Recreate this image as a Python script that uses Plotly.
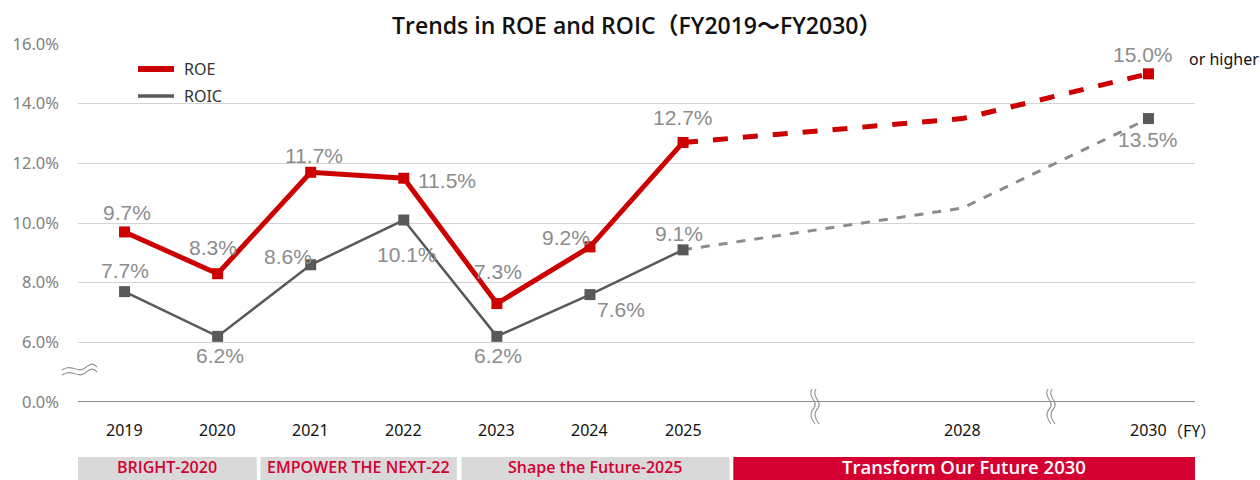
import plotly.graph_objects as go

years_actual = [2019, 2020, 2021, 2022, 2023, 2024, 2025]
roe_actual = [9.7, 8.3, 11.7, 11.5, 7.3, 9.2, 12.7]
roic_actual = [7.7, 6.2, 8.6, 10.1, 6.2, 7.6, 9.1]
years_plan = [2025, 2028, 2030]
roe_plan = [12.7, 13.5, 15.0]
roic_plan = [9.1, 10.5, 13.5]
tick_years = [2019, 2020, 2021, 2022, 2023, 2024, 2025, 2028, 2030]
y_tickvals = [4, 6, 8, 10, 12, 14, 16]
y_ticktext = ["0.0%", "6.0%", "8.0%", "10.0%", "12.0%", "14.0%", "16.0%"]
periods = ["BRIGHT-2020", "EMPOWER THE NEXT-22", "Shape the Future-2025", "Transform Our Future 2030"]
period_spans = [(2018.5, 2020.42), (2020.46, 2022.57), (2022.62, 2025.5), (2025.54, 2030.5)]

RED = "#cc0000"
DGRAY = "#595959"
LGRAY = "#8c8c8c"
LABEL = "#8c8c8c"
LBLFONT = "Liberation Sans, Arial"
TXTFONT = "Noto Sans, Noto Sans CJK JP"
HEADFONT = "Open Sans, Noto Sans CJK JP"

W, H = 1260, 480
L, R, T, B = 78, 65, 44, 78
PW, PH = W - L - R, H - T - B


def px(xp):
    return (xp - L) / PW


def py(yp):
    return (H - B - yp) / PH


fig = go.Figure()
fig.add_trace(go.Scatter(x=years_plan, y=roic_plan, mode="lines",
                         line=dict(color=LGRAY, width=3, dash="dash"), showlegend=False))
fig.add_trace(go.Scatter(x=years_plan, y=roe_plan, mode="lines",
                         line=dict(color=RED, width=5, dash="dash"), showlegend=False))
fig.add_trace(go.Scatter(x=years_actual, y=roe_actual, mode="lines", name="ROE",
                         line=dict(color=RED, width=5), showlegend=False))
fig.add_trace(go.Scatter(x=years_actual, y=roic_actual, mode="lines", name="ROIC",
                         line=dict(color=DGRAY, width=2.5), showlegend=False))
fig.add_trace(go.Scatter(x=years_actual + [years_plan[-1]], y=roic_actual + [roic_plan[-1]],
                         mode="markers", marker=dict(symbol="square", size=11, color=DGRAY),
                         showlegend=False))
fig.add_trace(go.Scatter(x=years_actual + [years_plan[-1]], y=roe_actual + [roe_plan[-1]],
                         mode="markers", marker=dict(symbol="square", size=11, color=RED),
                         showlegend=False))

roe_shift = [(2, -19), (-5, -26), (3, -17), (43, 2), (1, -32), (-24, -9), (0, -25)]
roic_shift = [(0, -21), (2, 19), (-23, -8), (3, 34), (1, 19), (31, 15), (-4, -16)]
ann = []
lblfont = dict(size=21, color=LABEL, family=LBLFONT)
for xv, yv, (dx, dy) in zip(years_actual, roe_actual, roe_shift):
    ann.append(dict(x=xv, y=yv, text=f"{yv:.1f}%", xshift=dx, yshift=-dy, showarrow=False, font=lblfont))
for xv, yv, (dx, dy) in zip(years_actual, roic_actual, roic_shift):
    ann.append(dict(x=xv, y=yv, text=f"{yv:.1f}%", xshift=dx, yshift=-dy, showarrow=False, font=lblfont))
ann.append(dict(x=years_plan[-1], y=roe_plan[-1], text=f"{roe_plan[-1]:.1f}%", xshift=-5, yshift=19,
                showarrow=False, font=lblfont))
ann.append(dict(x=years_plan[-1], y=roic_plan[-1], text=f"{roic_plan[-1]:.1f}%", xshift=0, yshift=-21,
                showarrow=False, font=lblfont))
ann.append(dict(x=years_plan[-1], y=roe_plan[-1], text="or higher", xshift=39, yshift=15,
                xanchor="left", showarrow=False, font=dict(size=16, color="#111", family=TXTFONT)))

shapes = []
legend_items = [("ROE", RED, 6, 69), ("ROIC", DGRAY, 3.5, 96)]
for name, col, wd, yp in legend_items:
    shapes.append(dict(type="line", xref="paper", yref="paper", x0=px(138), x1=px(174),
                       y0=py(yp), y1=py(yp), line=dict(color=col, width=wd)))
    ann.append(dict(x=px(182), y=py(yp), xref="paper", yref="paper", text=name, xanchor="left",
                    yanchor="middle", showarrow=False, font=dict(size=16, color="#333", family=TXTFONT)))

for yr in tick_years:
    ann.append(dict(x=yr, y=py(430), yref="paper", text=str(yr), showarrow=False,
                    font=dict(size=16, color="#111", family=TXTFONT), yanchor="middle"))
ann.append(dict(x=tick_years[-1], y=py(430), yref="paper", text="（FY）", xshift=17, xanchor="left",
                showarrow=False, font=dict(size=16, color="#111", family="Noto Sans CJK JP"),
                yanchor="middle"))

ann.append(dict(x=0.5, y=py(25), xref="paper", yref="paper", showarrow=False, yanchor="middle",
                text="Trends in ROE and ROIC（FY2019～FY2030）",
                font=dict(size=23, color="#111", family=HEADFONT, weight=600)))

for i, ((x0, x1), name) in enumerate(zip(period_spans, periods)):
    last = i == len(periods) - 1
    shapes.append(dict(type="rect", xref="x", yref="paper", x0=x0, x1=x1, y0=py(457), y1=py(482),
                       fillcolor="#d50032" if last else "#d9d9d9", line=dict(width=0), layer="below"))
    ann.append(dict(x=(x0 + x1) / 2, y=py(467 if not last else 466), yref="paper", text=name,
                    showarrow=False, yanchor="middle",
                    font=dict(size=18.5 if last else 16, color="white" if last else "#d50032",
                              family=HEADFONT, weight=600)))

shapes.append(dict(type="line", xref="paper", yref="y", x0=0, x1=1, y0=4, y1=4,
                   line=dict(color="#666666", width=1.5)))

for off in (0, 5):
    x0, x1 = 62, 97
    yc = 368 + off
    path = (f"M {px(x0)},{py(yc + 2)} C {px(x0 + 9)},{py(yc - 5)} {px(x0 + 16)},{py(yc + 6)} "
            f"{px(x0 + 23)},{py(yc)} S {px(x0 + 32)},{py(yc - 4)} {px(x1)},{py(yc - 1)}")
    shapes.append(dict(type="path", xref="paper", yref="paper", path=path,
                       line=dict(color="#9a9a9a", width=1.2)))

for xb in (814, 1050):
    for off in (0, 4):
        xc = xb + off
        path = (f"M {px(xc - 2)},{py(389)} C {px(xc - 7)},{py(397)} {px(xc + 5)},{py(402)} "
                f"{px(xc)},{py(408)} S {px(xc - 3)},{py(418)} {px(xc + 1)},{py(424)}")
        shapes.append(dict(type="path", xref="paper", yref="paper", path=path,
                           line=dict(color="#9a9a9a", width=1.2)))

fig.update_layout(
    width=W, height=H,
    margin=dict(l=L, r=R, t=T, b=B),
    plot_bgcolor="white", paper_bgcolor="white",
    annotations=ann, shapes=shapes,
    xaxis=dict(range=[2018.5, 2030.5], showgrid=False, zeroline=False, showline=False,
               showticklabels=False, fixedrange=True),
    yaxis=dict(range=[4, 16], tickvals=y_tickvals, ticktext=y_ticktext, showgrid=True,
               gridcolor="#d4d4d4", gridwidth=1, zeroline=False, showline=False, ticks="",
               ticklabelstandoff=18,
               tickfont=dict(size=16.5, color="#7f7f7f", family="Noto Sans")),
    showlegend=False,
)

fig.write_html("out.html")
